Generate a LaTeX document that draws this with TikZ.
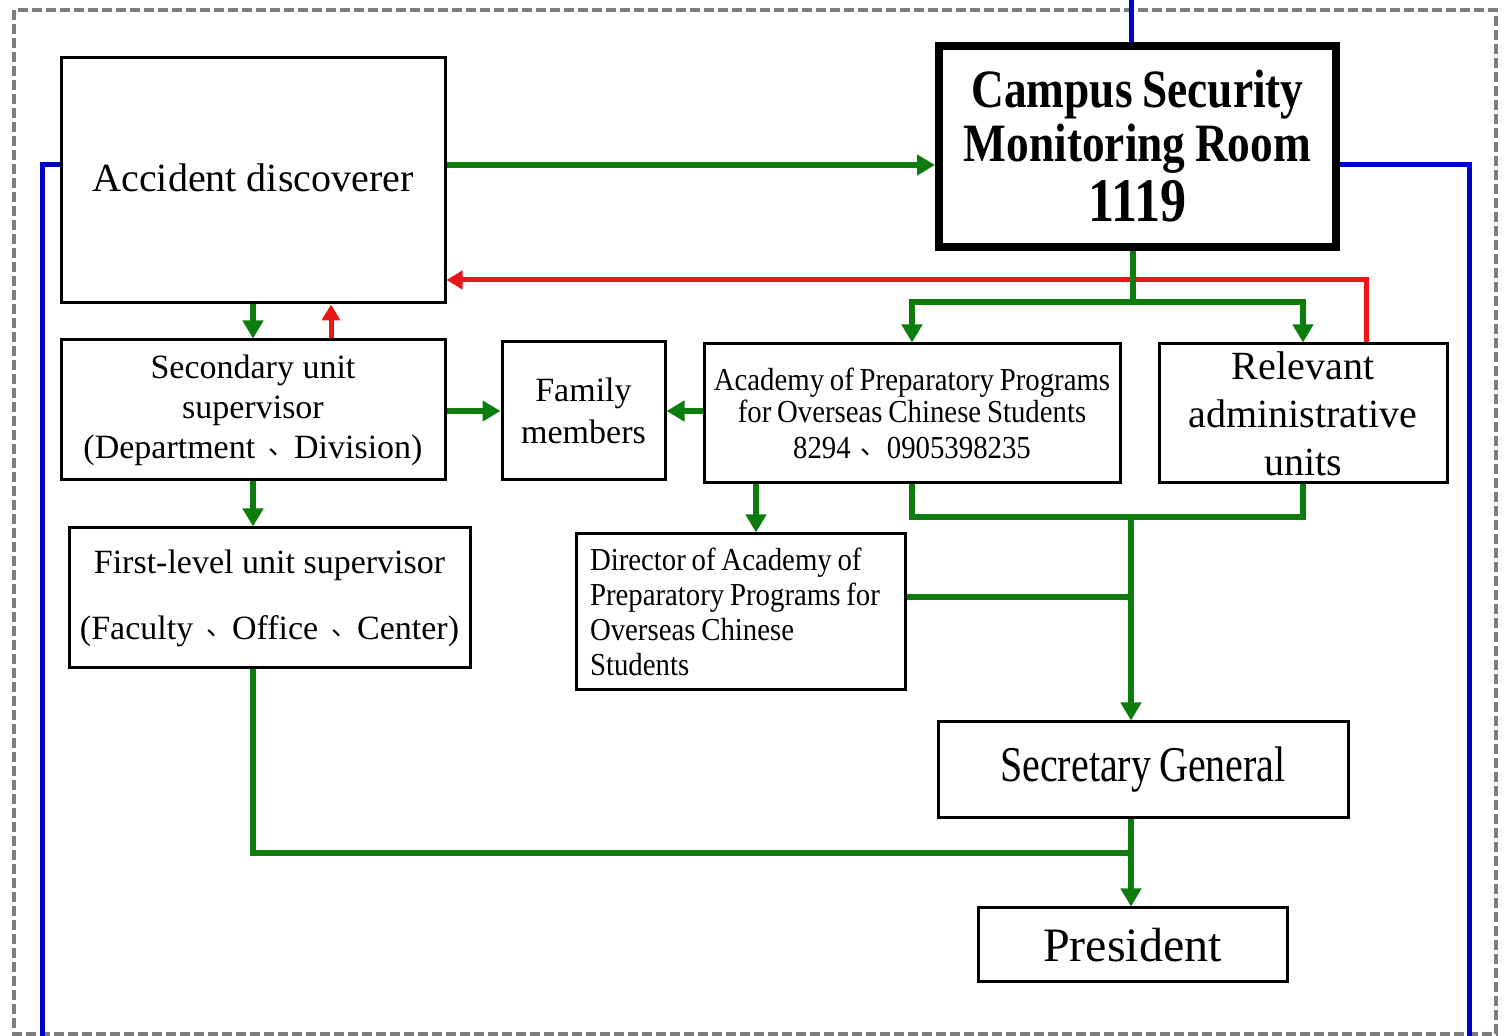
\documentclass[tikz,border=0pt]{standalone}
\usepackage{fontspec}
\setmainfont{Liberation Serif}
\newfontfamily\condfont[FakeStretch=0.9,WordSpace=0.8]{Liberation Serif}
\newfontfamily\narrowfont[FakeStretch=0.8,WordSpace=0.8]{Liberation Serif}
\newfontfamily\roomfont[FakeStretch=0.84,WordSpace=0.85]{Liberation Serif}
\newfontfamily\cjk{Noto Sans CJK SC}
\newcommand{\dunhao}{{\cjk\fontsize{13}{13}\selectfont\raisebox{2pt}{\,、}}}
\usetikzlibrary{arrows.meta}
\definecolor{flowgreen}{RGB}{12,125,12}
\definecolor{flowred}{RGB}{235,22,22}
\definecolor{linkblue}{RGB}{0,0,200}
\definecolor{framegray}{RGB}{125,125,125}
\tikzset{
    box/.style={draw,line width=1.5pt,inner sep=0pt,align=center},
    roombox/.style={draw,line width=4pt,inner sep=0pt,align=center},
    greenline/.style={draw=flowgreen,line width=3pt},
    greenarrow/.style={greenline,-{Triangle[length=9pt,width=10pt]}},
    redarrow/.style={draw=flowred,line width=2.5pt,-{Triangle[length=8pt,width=9pt]}},
    blueline/.style={draw=linkblue,line width=2.5pt},
    frameline/.style={draw=framegray,line width=2.2pt,dash pattern=on 5pt off 2pt}
}

\begin{document}
\begin{tikzpicture}[x=0.5pt,y=-0.5pt]
    \useasboundingbox (0,0) rectangle (1511,1036);
    % Frame
    \draw[frameline] (14,10) rectangle (1496,1034);
    % Boxes
    \node[box,minimum width=192pt,minimum height=122.5pt,font=\fontsize{20}{24}\selectfont] (acc) at (253,180.5) {\raisebox{3pt}{Accident discoverer}};
    \node[roombox,minimum width=198.5pt,minimum height=100.5pt,font=\roomfont\bfseries\fontsize{27}{27}\selectfont] (room) at (1137.5,146.5)
        {Campus Security\\Monitoring Room\\[3pt]{\fontsize{31}{31}\selectfont 1119}};
    \node[box,minimum width=192pt,minimum height=70pt,font=\fontsize{17}{20}\selectfont] (sec) at (253,410)
        {Secondary unit\\supervisor\\(Department \dunhao Division)};
    \node[box,minimum width=81.5pt,minimum height=69pt,font=\fontsize{17}{21}\selectfont] (fam) at (583.5,411) {Family\\members};
    \node[box,minimum width=208pt,minimum height=69.5pt,font=\condfont\fontsize{16}{16}\selectfont] (acad) at (912,413.5)
        {Academy of Preparatory Programs\\for Overseas Chinese Students\\[2pt]8294 \dunhao 0905398235};
    \node[box,minimum width=144pt,minimum height=69.5pt,font=\fontsize{20}{24}\selectfont] (rel) at (1303,413.5)
        {Relevant\\administrative\\units};
    \node[box,minimum width=200.5pt,minimum height=70pt,font=\fontsize{17}{21}\selectfont] (first) at (269.5,598)
        {First-level unit supervisor\\[12pt](Faculty \dunhao Office \dunhao Center)};
    \node[box,minimum width=164.5pt,minimum height=78pt,inner xsep=7pt,text width=150.5pt,align=flush left,font=\condfont\fontsize{16}{17.5}\selectfont] (dir) at (740.5,612)
        {Director of Academy of\\Preparatory Programs for\\Overseas Chinese\\Students};
    \node[box,minimum width=205pt,minimum height=48pt,font=\narrowfont\fontsize{25}{25}\selectfont] (secg) at (1143,770) {Secretary General};
    \node[box,minimum width=154.5pt,minimum height=37pt,font=\fontsize{24}{24}\selectfont] (pres) at (1132.5,945) {President};
    % Junctions
    \coordinate (toplink) at (0,165);
    \coordinate (redturn) at (1366,280);
    \coordinate (split) at (1133,302);
    \coordinate (upx) at (331,0);
    \coordinate (dirx) at (756,0);
    \coordinate (merge) at (1131,517);
    \coordinate (dirjoin) at (1131,597);
    \coordinate (lowjoin) at (1131,853);
    \coordinate (topedge) at (1131,0);
    \coordinate (leftdrop) at (42,1036);
    \coordinate (rightdrop) at (1469,1036);
    % Outside links
    \draw[blueline] (room.north -| topedge) -- (topedge);
    \draw[blueline] (acc.west |- toplink) -| (leftdrop);
    \draw[blueline] (room.east |- toplink) -| (rightdrop);
    % Report
    \draw[greenarrow] (acc.east |- toplink) -- (room.west |- toplink);
    \draw[redarrow] (rel.north -| redturn) -- (redturn) -- (acc.east |- redturn);
    \draw[greenline] (room.south -| split) -- (split);
    \draw[greenarrow] (split) -| (acad.north);
    \draw[greenarrow] (split) -| (rel.north);
    % Unit chain
    \draw[greenarrow] (acc.south) -- (sec.north);
    \draw[redarrow] (sec.north -| upx) -- (acc.south -| upx);
    \draw[greenarrow] (sec.east |- fam.west) -- (fam.west);
    \draw[greenarrow] (acad.west |- fam.east) -- (fam.east);
    \draw[greenarrow] (sec.south) -- (sec.south |- first.north);
    \draw[greenarrow] (acad.south -| dirx) -- (dir.north -| dirx);
    % Up to the top
    \draw[greenline] (acad.south) |- (merge) -| (rel.south);
    \draw[greenarrow] (merge) -- (merge |- secg.north);
    \draw[greenline] (dir.east |- dirjoin) -- (dirjoin);
    \draw[greenline] (first.south -| sec.south) |- (lowjoin);
    \draw[greenarrow] (secg.south -| merge) -- (pres.north -| merge);
\end{tikzpicture}
\end{document}
